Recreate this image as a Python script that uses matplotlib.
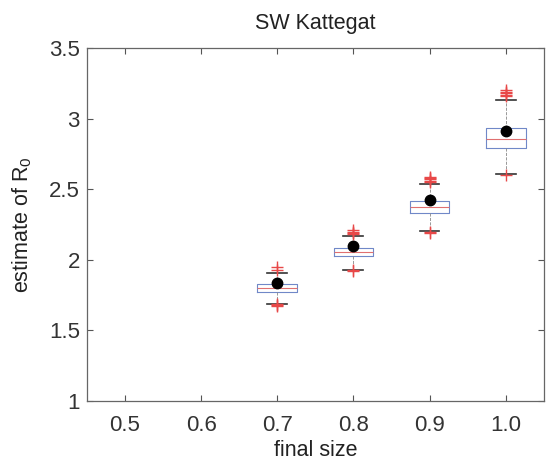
import matplotlib
matplotlib.use("Agg")
import matplotlib.pyplot as plt

plt.rcParams['font.family'] = ['Liberation Sans', 'DejaVu Sans']
plt.rcParams['mathtext.fontset'] = 'custom'
plt.rcParams['mathtext.rm'] = 'Liberation Sans'
plt.rcParams['mathtext.it'] = 'Liberation Sans'
plt.rcParams['mathtext.default'] = 'regular'

# final size categories and box statistics
labels = ['0.5', '0.6', '0.7', '0.8', '0.9', '1.0']
box_labels = ['0.7', '0.8', '0.9', '1.0']
q1 = [1.775, 2.025, 2.332, 2.795]
med = [1.800, 2.052, 2.372, 2.858]
q3 = [1.829, 2.083, 2.419, 2.936]
whislo = [1.690, 1.930, 2.205, 2.610]
whishi = [1.910, 2.172, 2.535, 3.133]
means = [1.834, 2.095, 2.427, 2.912]
fliers = [
    [1.93, 1.95, 1.69, 1.68, 1.67],
    [2.18, 2.19, 2.20, 2.21, 1.93, 1.92],
    [2.55, 2.56, 2.57, 2.58, 2.59, 2.20, 2.19],
    [3.16, 3.17, 3.18, 3.19, 3.20, 2.60],
]

stats = []
for i in range(len(box_labels)):
    stats.append(dict(q1=q1[i], med=med[i], q3=q3[i], whislo=whislo[i],
                      whishi=whishi[i], mean=means[i], fliers=fliers[i],
                      label=box_labels[i]))

positions = [labels.index(b) + 1 for b in box_labels]

fig = plt.figure(figsize=(5.46, 4.63), dpi=100)
ax = fig.add_axes([0.159, 0.134, 0.837, 0.762])

ax.bxp(stats, positions=positions, widths=0.52, capwidths=0.26,
       showmeans=True, manage_ticks=False,
       boxprops=dict(color='#7088c8', linewidth=0.8),
       medianprops=dict(color='#e07070', linewidth=0.8),
       whiskerprops=dict(color='#888888', linewidth=0.6, linestyle='--'),
       capprops=dict(color='#333333', linewidth=1.2),
       flierprops=dict(marker='+', markeredgecolor='#e84848', markersize=9,
                       markeredgewidth=1.0),
       meanprops=dict(marker='o', markerfacecolor='black',
                      markeredgecolor='black', markersize=7.5))

ax.set_xlim(0.5, 6.5)
ax.set_ylim(1, 3.5)
ax.set_xticks(range(1, len(labels) + 1))
ax.set_xticklabels(labels)
ax.set_yticks([1, 1.5, 2, 2.5, 3, 3.5])
ax.set_yticklabels(['1', '1.5', '2', '2.5', '3', '3.5'])

ax.tick_params(direction='in', top=True, right=True, length=4,
               width=0.8, color='#555555', labelsize=16, labelcolor='#333333',
               pad=5)
ax.tick_params(axis='x', pad=10)
for s in ax.spines.values():
    s.set_color('#666666')
    s.set_linewidth(0.9)

ax.set_title('SW Kattegat', fontsize=15.5, color='#222222', pad=14)
ax.set_xlabel('final size', fontsize=15.5, color='#222222', labelpad=3)
ax.set_ylabel('estimate of R$_0$', fontsize=15.5, color='#222222', labelpad=11)

fig.savefig('out.png', dpi=100)
